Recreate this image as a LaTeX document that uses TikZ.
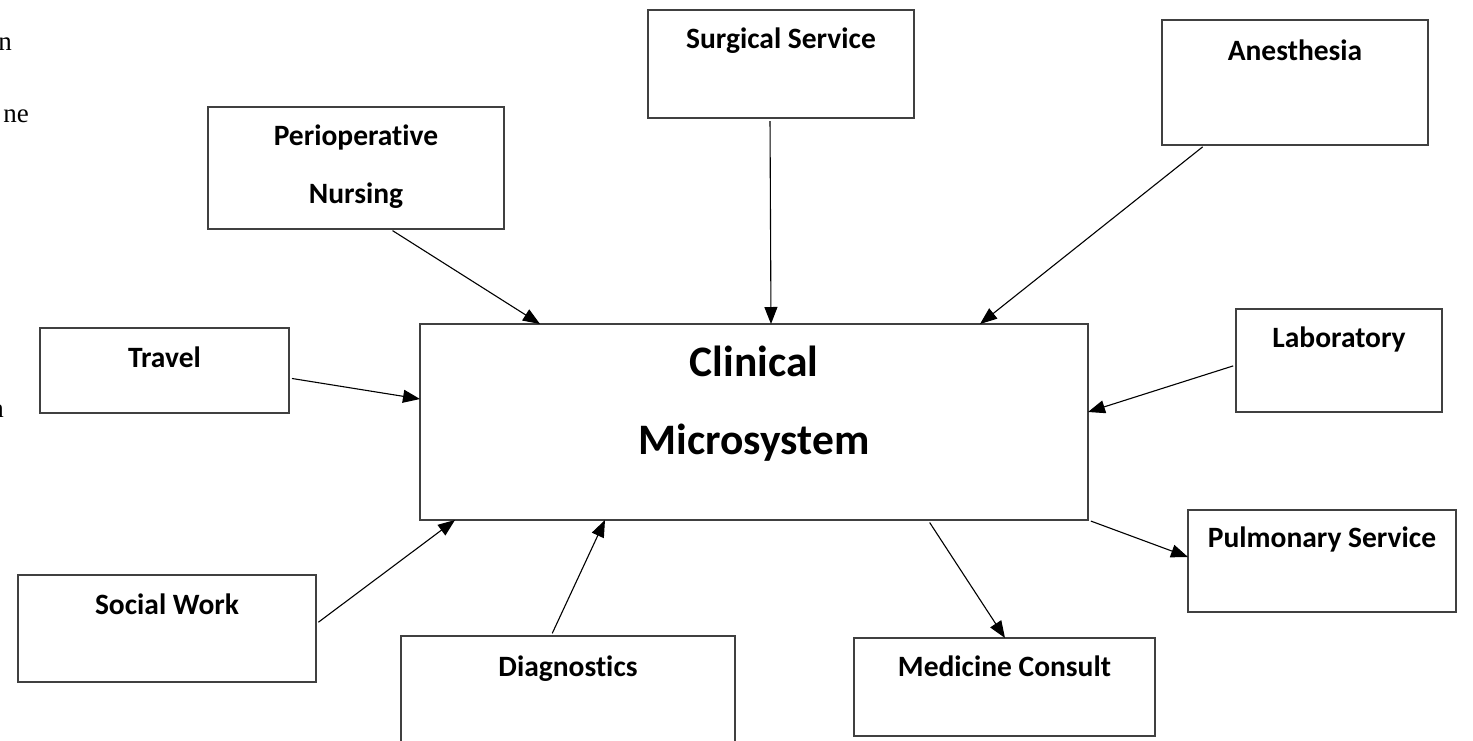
\documentclass[tikz,border=0pt]{standalone}
\usepackage{fontspec}
\setmainfont{Carlito}[Ligatures=NoCommon]
\newfontfamily\serifpart{Liberation Serif}
\usepackage{tikz}
\usetikzlibrary{arrows.meta}
\definecolor{boxgray}{RGB}{64,64,64}
\tikzset{box/.style={draw=boxgray, line width=1.5pt, rectangle, inner sep=0pt, outer sep=0pt},
   lbl/.style={inner sep=0pt, font=\fontsize{29.5}{34}\selectfont\bfseries, text height=21pt, text depth=6pt},
   conn/.style={-{Triangle[length=17pt,width=13pt]}, line width=1.1pt, shorten <=3pt},
   frag/.style={inner sep=0pt, font=\fontsize{27}{32}\serifpart}}

\begin{document}
\begin{tikzpicture}[x=1pt,y=-1pt]
  \useasboundingbox (0,0) rectangle (1473,740);
  % cut-off text at the left margin
  \node[frag,anchor=base east] at (12,50)(fragA){n};
  \node[frag,anchor=base east] at (29,122)(fragB){ne};
  \node[frag,anchor=base east] at (4,417)(fragC){n};

  % boxes
  \node[box,minimum width=668,minimum height=196] at (754,422)(cm){};
  \node[box,minimum width=266,minimum height=108] at (781,64)(surg){};
  \node[box,minimum width=266,minimum height=125] at (1295,82.5)(anes){};
  \node[box,minimum width=296,minimum height=122] at (356,168)(nurs){};
  \node[box,minimum width=249,minimum height=85] at (164.5,370.5)(trav){};
  \node[box,minimum width=206,minimum height=103] at (1339,360.5)(lab){};
  \node[box,minimum width=268,minimum height=102] at (1322,561)(pulm){};
  \node[box,minimum width=298,minimum height=107] at (167,628.5)(soc){};
  \node[box,minimum width=334,minimum height=114] at (568,693)(diag){};
  \node[box,minimum width=301,minimum height=98] at (1004.5,687)(med){};

  % labels
  \node[inner sep=0pt,align=center,font=\fontsize{43.5}{78}\selectfont\bfseries]
     at ([yshift=-80pt]cm.north)(cm-txt){Clinical\\Microsystem};
  \node[lbl] at ([yshift=-31pt]surg.north)(surg-txt){Surgical Service};
  \node[lbl] at ([yshift=-33pt]anes.north)(anes-txt){Anesthesia};
  \node[inner sep=0pt,align=center,font=\fontsize{29.5}{58}\selectfont\bfseries]
     at ([yshift=-60pt]nurs.north)(nurs-txt){Perioperative\\Nursing};
  \node[lbl] at ([yshift=-32pt]trav.north)(trav-txt){Travel};
  \node[lbl] at ([yshift=-31pt]lab.north)(lab-txt){Laboratory};
  \node[lbl] at ([yshift=-30pt]pulm.north)(pulm-txt){Pulmonary Service};
  \node[lbl] at ([yshift=-32pt]soc.north)(soc-txt){Social Work};
  \node[lbl] at ([yshift=-33pt]diag.north)(diag-txt){Diagnostics};
  \node[lbl] at ([yshift=-31pt]med.north)(med-txt){Medicine Consult};

  % connectors
  \draw[conn] (nurs.south -| 390,0) -- (cm.north -| 540,0);
  \draw[conn] (surg.south -| 770,0) -- (cm.north -| 771,0);
  \draw[conn] (anes.south -| 1205,0) -- (cm.north -| 980,0);
  \draw[conn] (trav.east |- 0,378) -- (cm.west |- 0,399);
  \draw[conn] (lab.west |- 0,365) -- (cm.east |- 0,412);
  \draw[conn] (cm.south east) -- (pulm.west |- 0,557);
  \draw[conn] (cm.south -| 928,0) -- (med.north -| 1005,0);
  \draw[conn] (diag.north -| 551,0) -- (cm.south -| 605,0);
  \draw[conn] (soc.east |- 0,624) -- (cm.south -| 455,0);
\end{tikzpicture}
\end{document}
